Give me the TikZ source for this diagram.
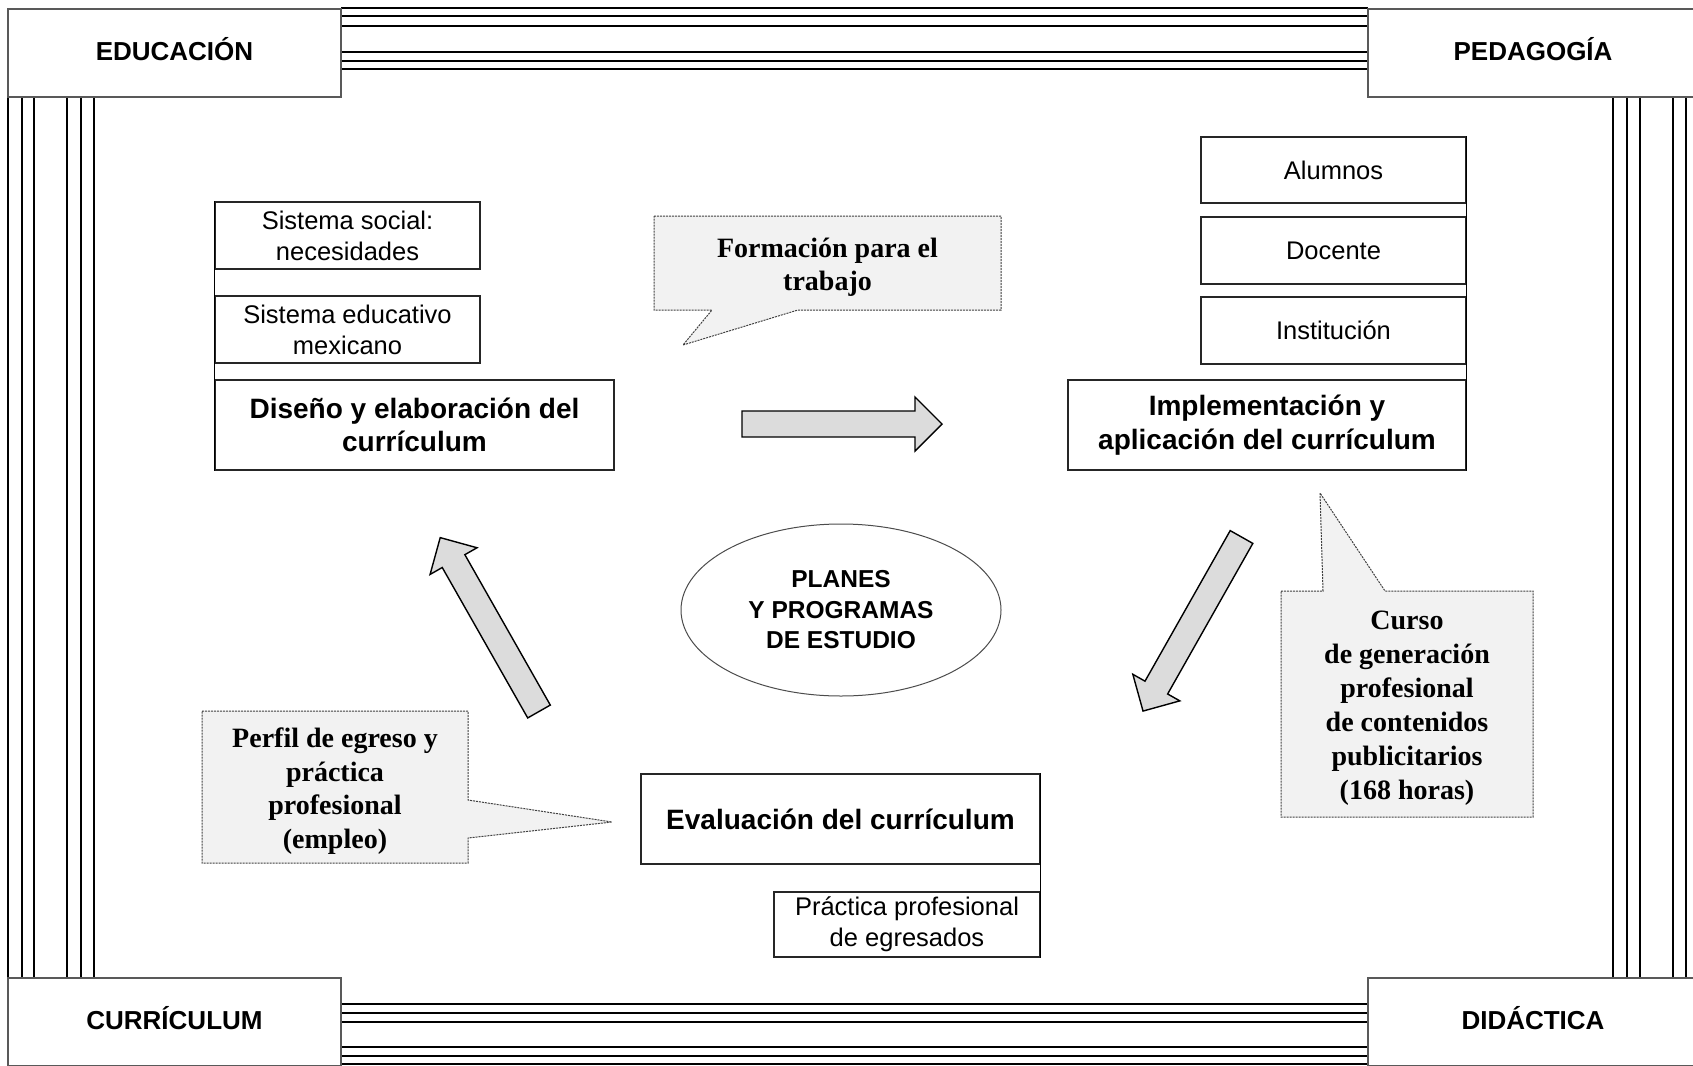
\documentclass[tikz,border=0pt]{standalone}
\usepackage{fontspec}
\setmainfont{Liberation Serif}
\newfontfamily\arialf{Liberation Sans}
\usetikzlibrary{shapes.geometric,calc}
\definecolor{callfill}{HTML}{F2F2F2}
\definecolor{arrfill}{HTML}{DCDCDC}
\definecolor{framec}{HTML}{595959}
\newcommand\blockarrow[2]{\draw[blockarr, shift={#1}, rotate=#2] (0,-13) -- (173,-13) -- (173,-27) -- (200,0) -- (173,27) -- (173,13) -- (0,13) -- cycle;}
\begin{document}
\begin{tikzpicture}[x=1pt,y=-1pt,
  corner/.style={draw=framec, line width=1.5pt, fill=white, inner sep=0pt, font=\arialf\bfseries\fontsize{26}{30}\selectfont},
  stripe/.style={line width=2pt, black},
  smallbox/.style={draw=black!85, line width=1.2pt, inner sep=0pt, align=center, font=\arialf\fontsize{25.5}{31}\selectfont},
  bigbox/.style={draw=black!85, line width=1.2pt, inner sep=0pt, align=center, font=\arialf\bfseries\fontsize{28}{33.5}\selectfont},
  linker/.style={line width=1.5pt, black},
  calltext/.style={inner sep=0pt, align=center, font=\bfseries\fontsize{28}{33.5}\selectfont},
  callout/.style={fill=callfill, draw=black!75, line width=1pt, dash pattern=on 2pt off 1pt},
  blockarr/.style={fill=arrfill, draw=black, line width=1.4pt, line join=miter},
  ellnode/.style={ellipse, draw=black!70, line width=1pt, inner sep=0pt, align=center, font=\arialf\bfseries\fontsize{24.5}{30.5}\selectfont}
]
\clip (0,0) rectangle (1693,1065);
\fill[white] (0,0) rectangle (1693,1065);

% stripes
\foreach \y in {8,16,26,52,61,69} \draw[stripe] (341,\y) -- (1368,\y);
\foreach \y in {1004,1013,1022,1047,1056,1064} \draw[stripe] (341,\y) -- (1368,\y);
\foreach \x in {8,22,34,67,81,94} \draw[stripe] (\x,97) -- (\x,978);
\foreach \x in {1613,1627,1640,1673,1686} \draw[stripe] (\x,97) -- (\x,978);

% corner boxes (frames, then labels)
\node[corner, minimum width=333, minimum height=88] (educ) at (174.5,53) {};
\node[corner, minimum width=330, minimum height=88] (peda) at (1533,53) {};
\node[corner, minimum width=333, minimum height=88] (curr) at (174.5,1022) {};
\node[corner, minimum width=330, minimum height=88] (dida) at (1533,1022) {};
\node[corner, draw=none, fill=none] at ([yshift=3.5]educ.center) {EDUCACIÓN};
\node[corner, draw=none, fill=none] at ([yshift=3.5]peda.center) {PEDAGOGÍA};
\node[corner, draw=none, fill=none] at ([yshift=3.5]curr.center) {CURRÍCULUM};
\node[corner, draw=none, fill=none] at ([yshift=3.5]dida.center) {DIDÁCTICA};

% left group
\node[smallbox, minimum width=265, minimum height=67] (soc) at (347.5,235.5) {Sistema social:\\necesidades};
\node[smallbox, minimum width=265, minimum height=67] (sem) at (347.5,329.5) {Sistema educativo\\mexicano};
\node[bigbox, minimum width=399, minimum height=90] (dis) at (414.5,425) {Diseño y elaboración del\\currículum};
\draw[linker] (soc.north west) -- (dis.south west);

% right group
\node[smallbox, minimum width=265, minimum height=66] (alu) at (1333.5,170) {Alumnos};
\node[smallbox, minimum width=265, minimum height=67] (doc) at (1333.5,250.5) {Docente};
\node[smallbox, minimum width=265, minimum height=67] (ins) at (1333.5,330.5) {Institución};
\node[bigbox, minimum width=398, minimum height=90] (imp) at (1267,425) {Implementación y\\aplicación del currículum};
\draw[linker] (alu.north east) -- (imp.south east);

% bottom group
\node[bigbox, minimum width=399, minimum height=90] (eva) at (840.5,819) {Evaluación del currículum};
\node[smallbox, minimum width=266, minimum height=65] (pra) at (907,924.5) {Práctica profesional\\de egresados};
\draw[linker] (eva.north east) -- (pra.south east);

% centre ellipse
\node[ellnode, minimum width=320, minimum height=172] (plan) at (841,610) {PLANES\\Y PROGRAMAS\\DE ESTUDIO};

% callouts
\coordinate (formtip) at (683,345);
\draw[callout] (654,216) -- (1001,216) -- (1001,310) -- (798,310) -- (formtip) -- (712,310) -- (654,310) -- cycle;
\node[calltext] (form) at (827.5,267) {Formación para el\\trabajo};

\coordinate (cursotip) at (1320,493);
\draw[callout] (1281,591) -- (1323,591) -- (cursotip) -- (1385,591) -- (1533,591) -- (1533,817) -- (1281,817) -- cycle;
\node[calltext, font=\bfseries\fontsize{28}{34}\selectfont] (curso) at (1407,708) {Curso\\de generación\\profesional\\de contenidos\\publicitarios\\(168 horas)};

\coordinate (perftip) at (612,822);
\draw[callout] (202,711) -- (468,711) -- (468,800) -- (perftip) -- (468,838) -- (468,863) -- (202,863) -- cycle;
\node[calltext] (perf) at (335,791) {Perfil de egreso y\\práctica\\profesional\\(empleo)};

% block arrows
\blockarrow{(742,424)}{0}
\blockarrow{(1241.5,537)}{240.5}
\blockarrow{(539,711.5)}{119.6}
\end{tikzpicture}
\end{document}
